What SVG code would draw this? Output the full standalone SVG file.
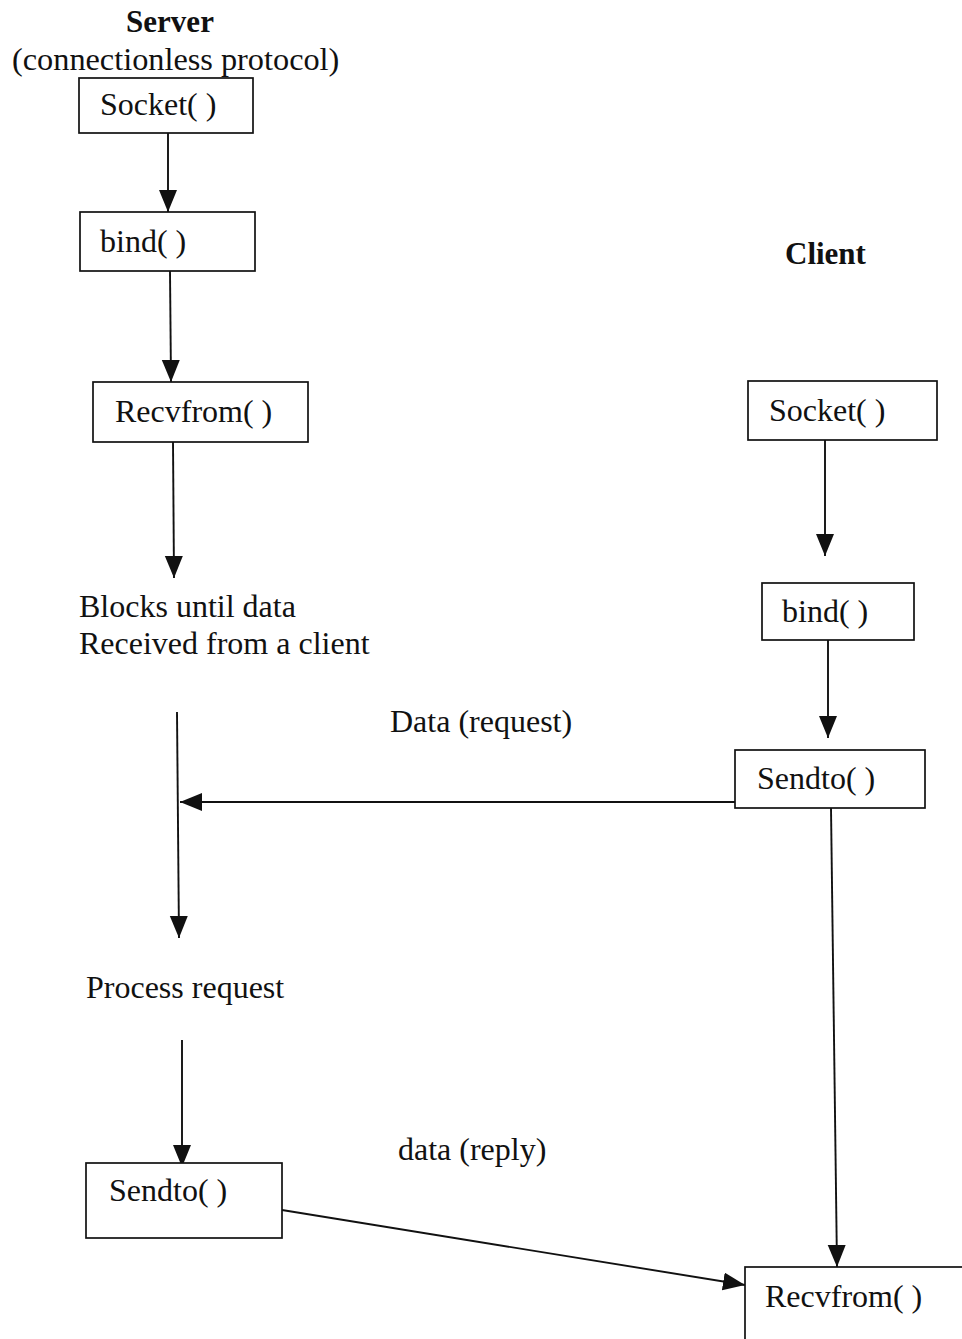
<svg xmlns="http://www.w3.org/2000/svg" width="962" height="1339" viewBox="0 0 962 1339">
<style>
text{font-family:"Liberation Serif","Times New Roman",serif;font-size:32px;fill:#111}
.b{font-weight:bold;font-size:31px}
.box{fill:#fff;stroke:#111;stroke-width:1.7}
.c{stroke:#111;stroke-width:1.9;fill:none;marker-end:url(#ah)}
</style>
<defs>
<marker id="ah" markerUnits="userSpaceOnUse" markerWidth="24" markerHeight="20" refX="22" refY="9" orient="auto">
<path d="M0,0 L22,9 L0,18 z" fill="#111"/>
</marker>
</defs>
<rect width="962" height="1339" fill="#fff"/>
<g id="labels">
<text class="b" x="170" y="32" text-anchor="middle">Server</text>
<text x="12" y="70" style="font-size:32.3px">(connectionless protocol)</text>
<text class="b" x="785" y="264">Client</text>
<text x="79" y="617">Blocks until data</text>
<text x="79" y="654">Received from a client</text>
<text x="390" y="732">Data (request)</text>
<text x="86" y="998">Process request</text>
<text x="398" y="1160">data (reply)</text>
</g>
<g id="connectors">
<line class="c" x1="168" y1="133" x2="168" y2="212"/>
<line class="c" x1="170" y1="271" x2="171" y2="382"/>
<line class="c" x1="173" y1="442" x2="174" y2="578"/>
<line class="c" x1="177" y1="712" x2="179" y2="938"/>
<line class="c" x1="735" y1="802" x2="180" y2="802"/>
<line class="c" x1="182" y1="1040" x2="182" y2="1167"/>
<line class="c" x1="282" y1="1210" x2="745" y2="1285"/>
<line class="c" x1="825" y1="440" x2="825" y2="556"/>
<line class="c" x1="828" y1="640" x2="828" y2="738"/>
<line class="c" x1="831" y1="808" x2="837" y2="1267"/>
</g>
<g id="server-socket"><rect class="box" x="79" y="78" width="174" height="55"/><text x="100" y="115">Socket( )</text></g>
<g id="server-bind"><rect class="box" x="80" y="212" width="175" height="59"/><text x="100" y="252">bind( )</text></g>
<g id="server-recvfrom"><rect class="box" x="93" y="382" width="215" height="60"/><text x="115" y="422">Recvfrom( )</text></g>
<g id="server-sendto"><rect class="box" x="86" y="1163" width="196" height="75"/><text x="109" y="1201">Sendto( )</text></g>
<g id="client-socket"><rect class="box" x="748" y="381" width="189" height="59"/><text x="769" y="421">Socket( )</text></g>
<g id="client-bind"><rect class="box" x="762" y="583" width="152" height="57"/><text x="782" y="622">bind( )</text></g>
<g id="client-sendto"><rect class="box" x="735" y="750" width="190" height="58"/><text x="757" y="789">Sendto( )</text></g>
<g id="client-recvfrom"><rect class="box" x="745" y="1267" width="230" height="90"/><text x="765" y="1307">Recvfrom( )</text></g>
</svg>
